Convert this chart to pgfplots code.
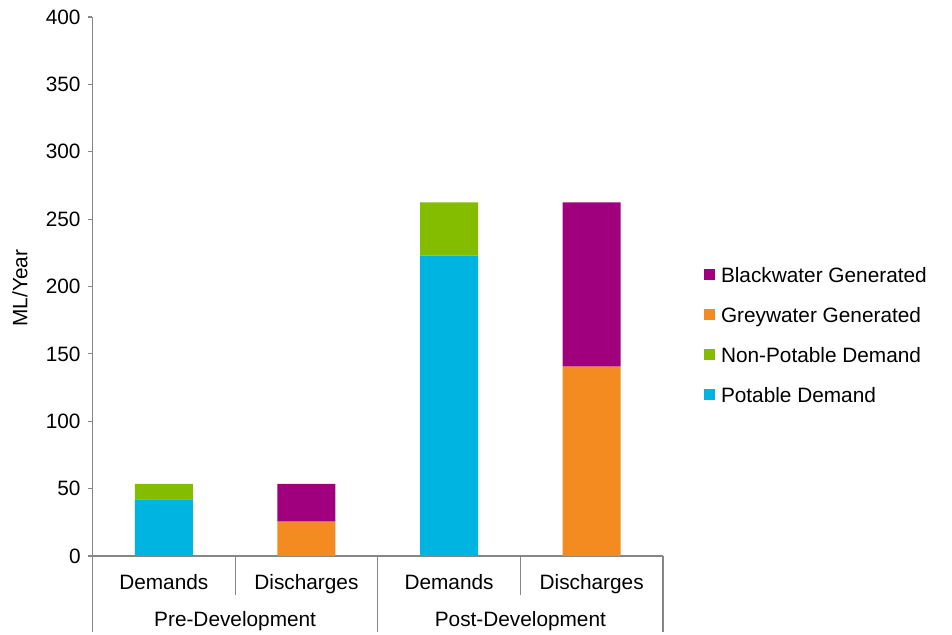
\documentclass[border=0pt]{standalone}
\usepackage{pgfplots}
\pgfplotsset{compat=1.18}
\usepackage{fontspec}
\setmainfont{Liberation Sans}
\definecolor{cPot}{RGB}{0,180,226}
\definecolor{cNon}{RGB}{132,188,0}
\definecolor{cGrey}{RGB}{244,139,32}
\definecolor{cBlack}{RGB}{160,0,125}
\definecolor{axgray}{RGB}{134,134,134}
\begin{document}
\fontsize{10.4}{12.5}\selectfont
\begin{tikzpicture}
\useasboundingbox (0,0) rectangle (476pt,317.5pt);
\begin{axis}[
  at={(46.25pt,39.5pt)}, anchor=south west,
  scale only axis, width=285.25pt, height=269.5pt,
  ybar stacked, bar width=29pt,
  xmin=-0.5, xmax=3.5, ymin=0, ymax=400,
  ytick={0,50,...,400},
  xtick=\empty,
  axis x line=bottom, axis y line=left,
  axis line style={draw=axgray, line width=0.6pt, -},
  tick style={draw=axgray, line width=0.6pt},
  major tick length=2.3pt, tick align=outside,
  yticklabel style={font=\fontsize{10.4}{12}\selectfont},
  /pgf/number format/assume math mode=true,
  clip=false,
  reverse legend,
  legend cell align=left,
  legend image code/.code={\draw[#1,draw=none] (0pt,-1.3pt) rectangle (5.5pt,4pt);},
  legend style={at={(1,0.4058)}, anchor=west, xshift=20.5pt, draw=none, fill=none, inner sep=0pt,
    row sep=10pt,
    nodes={inner sep=0pt, text height=7.5pt, text depth=2.5pt, font=\fontsize{10.4}{12}\selectfont},
    /tikz/every odd column/.style={column sep=2.8pt}},
]
\addplot[fill=cPot, draw=none] coordinates {(0,42) (1,0) (2,223) (3,0)};
\addlegendentry{Potable Demand}
\addplot[fill=cNon, draw=none] coordinates {(0,11.5) (1,0) (2,39.5) (3,0)};
\addlegendentry{Non-Potable Demand}
\addplot[fill=cGrey, draw=none] coordinates {(0,0) (1,25.5) (2,0) (3,140.5)};
\addlegendentry{Greywater Generated}
\addplot[fill=cBlack, draw=none] coordinates {(0,0) (1,28) (2,0) (3,122)};
\addlegendentry{Blackwater Generated}
\draw[axgray, line width=0.6pt] (axis cs:-0.5,0) -- ++(0pt,-38pt);
\draw[axgray, line width=0.6pt] (axis cs:1.5,0) -- ++(0pt,-38pt);
\draw[axgray, line width=0.6pt] (axis cs:3.5,0) -- ++(0pt,-38pt);
\draw[axgray, line width=0.6pt] (axis cs:0.5,0) -- ++(0pt,-19.5pt);
\draw[axgray, line width=0.6pt] (axis cs:2.5,0) -- ++(0pt,-19.5pt);
\node[anchor=base] at ([yshift=-17pt]axis cs:0,0) {Demands};
\node[anchor=base] at ([yshift=-17pt]axis cs:1,0) {Discharges};
\node[anchor=base] at ([yshift=-17pt]axis cs:2,0) {Demands};
\node[anchor=base] at ([yshift=-17pt]axis cs:3,0) {Discharges};
\node[anchor=base] at ([yshift=-35.3pt]axis cs:0.5,0) {Pre-Development};
\node[anchor=base] at ([yshift=-35.3pt]axis cs:2.5,0) {Post-Development};
\end{axis}
\node[rotate=90] at (10pt,173.5pt) {ML/Year};
\end{tikzpicture}
\end{document}
